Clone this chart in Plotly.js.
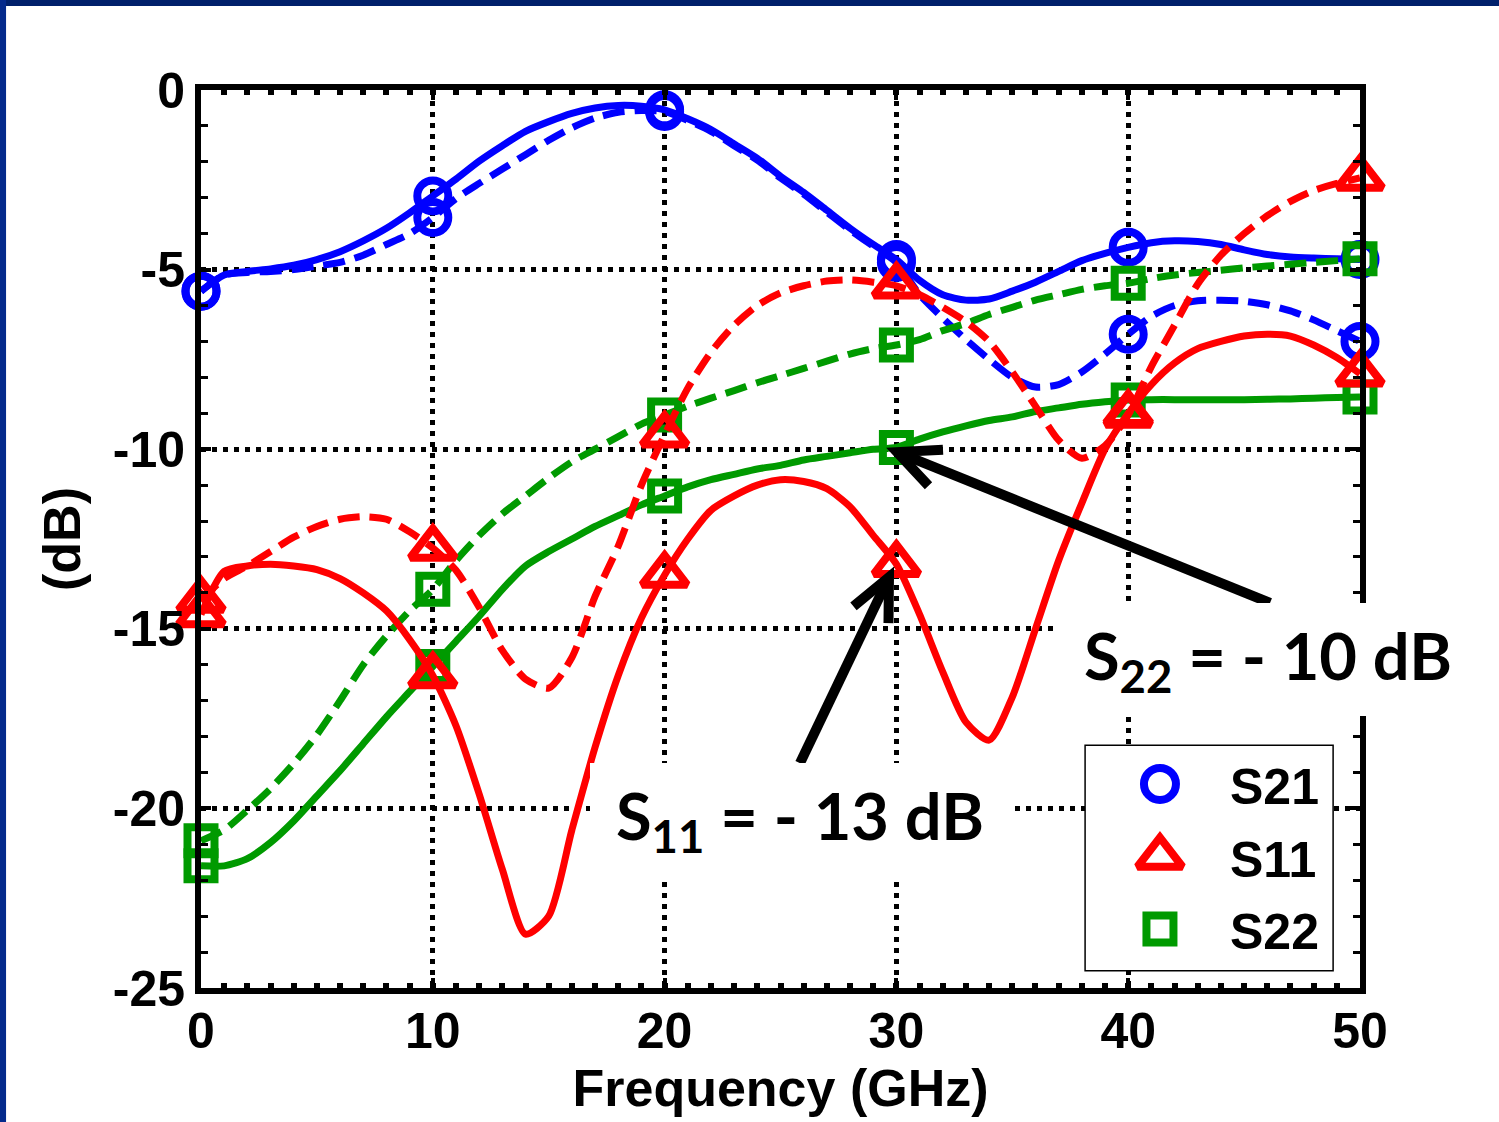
<!DOCTYPE html>
<html><head><meta charset="utf-8">
<script src="https://cdn.plot.ly/plotly-3.0.1.min.js"></script>
<style>html,body{margin:0;padding:0;background:#fff}#chart{width:1499px;height:1122px}</style>
</head><body><div id="chart"></div><script>
// Frequency grid (GHz)
const freqGHz = [0,1,2,3,4,5,6,7,8,9,10,11,12,13,14,15,16,17,18,19,20,21,22,23,24,25,26,27,28,29,30,31,32,33,34,35,36,37,38,39,40,41,42,43,44,45,46,47,48,49,50];
// S21 (dB)
const s21Solid = [-5.6,-5.15,-5.05,-4.98,-4.88,-4.72,-4.5,-4.2,-3.85,-3.42,-2.95,-2.48,-1.98,-1.55,-1.15,-0.88,-0.65,-0.5,-0.43,-0.45,-0.55,-0.8,-1.1,-1.5,-1.9,-2.4,-2.85,-3.35,-3.85,-4.3,-4.72,-5.3,-5.7,-5.85,-5.82,-5.6,-5.35,-5.05,-4.75,-4.55,-4.38,-4.25,-4.2,-4.22,-4.3,-4.45,-4.58,-4.65,-4.68,-4.7,-4.72];
const s21Dashed = [-5.6,-5.15,-5.08,-5.05,-5.0,-4.9,-4.8,-4.6,-4.3,-4.0,-3.55,-3.02,-2.6,-2.2,-1.8,-1.4,-1.05,-0.78,-0.62,-0.57,-0.6,-0.85,-1.15,-1.55,-1.95,-2.45,-2.9,-3.4,-3.9,-4.35,-4.8,-5.7,-6.35,-6.95,-7.5,-8.0,-8.27,-8.2,-7.85,-7.35,-6.8,-6.3,-6.0,-5.87,-5.85,-5.88,-5.98,-6.15,-6.4,-6.7,-7.0];
// S11 (dB)
const s11Solid = [-14.6,-13.4,-13.25,-13.2,-13.25,-13.35,-13.6,-14.0,-14.5,-15.3,-16.3,-17.7,-19.6,-21.7,-23.5,-23.0,-20.6,-18.3,-16.3,-14.7,-13.5,-12.5,-11.7,-11.3,-11.0,-10.85,-10.9,-11.1,-11.6,-12.4,-13.2,-14.6,-16.2,-17.6,-18.1,-16.9,-15.0,-13.1,-11.5,-10.0,-9.0,-8.2,-7.6,-7.2,-7.0,-6.85,-6.8,-6.85,-7.1,-7.45,-7.9];
const s11Dashed = [-14.2,-13.6,-13.25,-12.85,-12.45,-12.15,-11.95,-11.88,-11.95,-12.3,-12.75,-13.37,-14.4,-15.6,-16.4,-16.65,-15.8,-14.1,-12.7,-11.0,-9.6,-8.3,-7.3,-6.55,-6.0,-5.65,-5.45,-5.32,-5.29,-5.35,-5.45,-5.7,-6.05,-6.45,-7.0,-7.85,-8.8,-9.75,-10.25,-9.9,-9.05,-7.7,-6.55,-5.4,-4.6,-4.0,-3.5,-3.1,-2.8,-2.6,-2.45];
// S22 (dB)
const s22Solid = [-21.6,-21.6,-21.4,-20.95,-20.35,-19.65,-18.95,-18.2,-17.45,-16.75,-16.05,-15.35,-14.65,-13.9,-13.25,-12.85,-12.5,-12.15,-11.85,-11.55,-11.3,-11.05,-10.85,-10.7,-10.55,-10.45,-10.3,-10.2,-10.1,-10.0,-9.95,-9.72,-9.52,-9.35,-9.2,-9.1,-8.95,-8.85,-8.75,-8.68,-8.63,-8.62,-8.62,-8.62,-8.62,-8.62,-8.61,-8.6,-8.58,-8.56,-8.55];
const s22Dashed = [-20.9,-20.6,-20.05,-19.45,-18.75,-17.95,-17.0,-16.0,-15.2,-14.5,-13.9,-13.1,-12.4,-11.8,-11.3,-10.8,-10.35,-10.0,-9.65,-9.3,-9.05,-8.8,-8.58,-8.37,-8.15,-7.95,-7.75,-7.55,-7.35,-7.2,-7.1,-6.95,-6.7,-6.5,-6.25,-6.05,-5.85,-5.7,-5.55,-5.45,-5.38,-5.25,-5.15,-5.08,-5.02,-4.95,-4.9,-4.85,-4.8,-4.75,-4.7];
// Marker frequencies, tick values and labels
const markerFreqs = [0,10,20,30,40,50];
const xTickVals = [0,10,20,30,40,50];
const xTickText = ['0','10','20','30','40','50'];
const yTickVals = [-25,-20,-15,-10,-5,0];
const yTickText = ['-25','-20','-15','-10','-5','0'];
const legendNames = ['S21','S11','S22'];
// Annotation arrows: [tail, tip] in data units (GHz, dB)
const arrowS11 = [[25.84,-18.74],[29.68,-13.56]];
const arrowS22 = [[46.12,-14.28],[30.03,-10.08]];

const BLUE='#0000ff', RED='#ff0000', GREEN='#009a00';
const FONT="'Liberation Sans', Arial, sans-serif";
const pick = arr => markerFreqs.map(f => arr[freqGHz.indexOf(f)]);
const MLW = 8;

function lineTrace(y, color, dash){
  return {x:freqGHz, y:y, type:'scatter', mode:'lines',
    line:{color:color, width:7, dash:dash, shape:'spline', smoothing:0.7},
    showlegend:false, hoverinfo:'skip'};
}
function markTrace(y, color, symbol, size){
  return {x:markerFreqs, y:pick(y), type:'scatter', mode:'markers',
    marker:{symbol:symbol, size:size, color:'rgba(0,0,0,0)', opacity:1,
      line:{color:markerFreqs.map(()=>color), width:markerFreqs.map(()=>MLW)}},
    cliponaxis:false, showlegend:false, hoverinfo:'skip'};
}
const DASH='22px,10px';
const traces = [
  lineTrace(s21Solid, BLUE, 'solid'), lineTrace(s21Dashed, BLUE, DASH),
  markTrace(s21Solid, BLUE, 'circle', 31), markTrace(s21Dashed, BLUE, 'circle', 31),
  lineTrace(s22Solid, GREEN, 'solid'), lineTrace(s22Dashed, GREEN, DASH),
  markTrace(s22Solid, GREEN, 'square', 27), markTrace(s22Dashed, GREEN, 'square', 27),
  lineTrace(s11Solid, RED, 'solid'), lineTrace(s11Dashed, RED, DASH),
  markTrace(s11Solid, RED, 'triangle-up', 39), markTrace(s11Dashed, RED, 'triangle-up', 39),
  // legend symbols on a hidden overlay axis
  {x:[0.8274,0.8274,0.8274], y:[0.2272,0.1459,0.0657], xaxis:'x2', yaxis:'y2', type:'scatter', mode:'markers',
   marker:{symbol:['circle','triangle-up','square'], size:[32,39,27], color:'rgba(0,0,0,0)', opacity:1,
     line:{color:[BLUE,RED,GREEN], width:[MLW,MLW,MLW]}}, cliponaxis:false, showlegend:false, hoverinfo:'skip'}
];

// plot-area geometry (used for arrowheads)
const M = {l:201, r:139, t:90, b:134};
const PW = 1499 - M.l - M.r, PH = 1122 - M.t - M.b;
function arrowShapes(a){
  const tail=a[0], tip=a[1];
  const dx=(tail[0]-tip[0])*PW/50, dy=(tail[1]-tip[1])*PH/25;
  const L=Math.hypot(dx,dy), ux=dx/L, uy=dy/L;
  const ang=25*Math.PI/180, c=Math.cos(ang), s=Math.sin(ang), len=46;
  const r1=[(ux*c-uy*s)*len,(ux*s+uy*c)*len], r2=[(ux*c+uy*s)*len,(-ux*s+uy*c)*len];
  return [
    {type:'line', xref:'x', yref:'y', x0:tail[0], y0:tail[1], x1:tip[0], y1:tip[1], line:{color:'#000', width:10}, layer:'above'},
    {type:'path', xref:'x', yref:'y', xsizemode:'pixel', ysizemode:'pixel', xanchor:tip[0], yanchor:tip[1],
     path:'M'+r1[0].toFixed(1)+','+r1[1].toFixed(1)+' L0,0 L'+r2[0].toFixed(1)+','+r2[1].toFixed(1),
     line:{color:'#000', width:10}, layer:'above'}
  ];
}

const axisCommon = {
  showline:true, linecolor:'#000', linewidth:6, mirror:'allticks',
  ticks:'inside', ticklen:10, tickwidth:4, tickcolor:'#000',
  showgrid:true, gridcolor:'#000', gridwidth:5, griddash:'5px,6px',
  zeroline:false, tickmode:'array',
  tickfont:{family:FONT, size:50, color:'#000', weight:700}
};
const layout = {
  width:1499, height:1122,
  margin:M,
  paper_bgcolor:'#fff', plot_bgcolor:'#fff',
  showlegend:false,
  xaxis:Object.assign({}, axisCommon, {range:[0,50], tickvals:xTickVals, ticktext:xTickText,
    minor:{dtick:1, tick0:0, ticks:'inside', ticklen:5, tickwidth:6, tickcolor:'#000', showgrid:false},
    ticklabelstandoff:-6,
    title:{text:'Frequency (GHz)', font:{family:FONT, size:52, color:'#000', weight:700}, standoff:10}}),
  yaxis:Object.assign({}, axisCommon, {range:[-25,0], tickvals:yTickVals, ticktext:yTickText,
    minor:{dtick:1, tick0:0, ticks:'inside', ticklen:7, tickwidth:3, tickcolor:'#000', showgrid:false},
    title:{text:'(dB)', font:{family:FONT, size:52, color:'#000', weight:700}, standoff:18}}),
  xaxis2:{overlaying:'x', range:[0,1], visible:false, fixedrange:true},
  yaxis2:{overlaying:'y', range:[0,1], visible:false, fixedrange:true},
  shapes:[
    {type:'rect', xref:'paper', yref:'paper', x0:-0.2, x1:1.2, y0:1.0935, y1:1.12, fillcolor:'#00206b', line:{width:0}, layer:'above'},
    {type:'rect', xref:'paper', yref:'paper', x0:-0.19, x1:-0.1682, y0:-0.2, y1:1.12, fillcolor:'#042a8c', line:{width:0}, layer:'above'},
    {type:'rect', xref:'x', yref:'y', x0:38.14, x1:48.84, y0:-18.24, y1:-24.52, fillcolor:'#fff', line:{color:'#000', width:1.5}, layer:'between'}
  ].concat(arrowShapes(arrowS11), arrowShapes(arrowS22)),
  annotations:[
    {xref:'paper', yref:'paper', x:0.5168, y:0.1871, xanchor:'center', yanchor:'middle', showarrow:false,
     text:'S<sub>11</sub> = - 13 dB', font:{family:'Lato, sans-serif', size:65, color:'#000', weight:700},
     bgcolor:'#fff', width:420, height:113, borderpad:0, borderwidth:0},
    {xref:'paper', yref:'paper', x:0.9206, y:0.3653, xanchor:'center', yanchor:'middle', showarrow:false,
     text:'S<sub>22</sub> = - 10 dB', font:{family:'Lato, sans-serif', size:65, color:'#000', weight:700},
     bgcolor:'#fff', width:420, height:113, borderpad:0, borderwidth:0},
    {xref:'paper', yref:'paper', x:0.886, y:0.2238, xanchor:'left', yanchor:'middle', showarrow:false,
     text:legendNames[0], font:{family:FONT, size:50, color:'#000', weight:700}},
    {xref:'paper', yref:'paper', x:0.886, y:0.1425, xanchor:'left', yanchor:'middle', showarrow:false,
     text:legendNames[1], font:{family:FONT, size:50, color:'#000', weight:700}},
    {xref:'paper', yref:'paper', x:0.886, y:0.0624, xanchor:'left', yanchor:'middle', showarrow:false,
     text:legendNames[2], font:{family:FONT, size:50, color:'#000', weight:700}}
  ]
};
Plotly.newPlot('chart', traces, layout, {staticPlot:true, displayModeBar:false});
</script></body></html>
